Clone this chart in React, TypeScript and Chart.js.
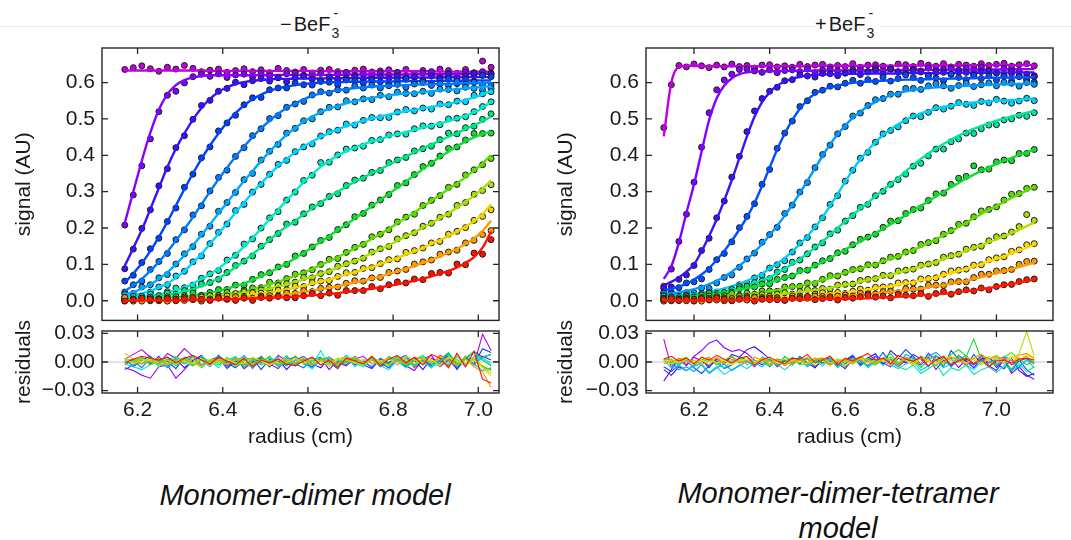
import React, { useEffect, useRef } from 'react';
import { Chart, registerables } from 'chart.js';
Chart.register(...registerables);

const FONT = '"Liberation Sans", Arial, Helvetica, sans-serif';
const INK = '#1a1a1a';

// ---------- axis ticks ----------
const X_TICKS = [6.2, 6.4, 6.6, 6.8, 7.0];
const SIGNAL_TICKS = [0, 0.1, 0.2, 0.3, 0.4, 0.5, 0.6];
const RESID_TICKS = [-0.03, 0, 0.03];

// ---------- radius grids (cm) ----------
const RADIUS_L = [6.17,6.19,6.21,6.23,6.25,6.27,6.29,6.31,6.33,6.35,6.37,6.39,6.41,6.43,6.45,6.47,6.49,6.51,6.53,6.55,6.57,6.59,6.61,6.63,6.65,6.67,6.69,6.71,6.73,6.75,6.77,6.79,6.81,6.83,6.85,6.87,6.89,6.91,6.93,6.95,6.97,6.99,7.01,7.03];
const RADIUS_R = [6.12,6.14,6.16,6.18,6.20,6.22,6.24,6.26,6.28,6.30,6.32,6.34,6.36,6.38,6.40,6.42,6.44,6.46,6.48,6.50,6.52,6.54,6.56,6.58,6.60,6.62,6.64,6.66,6.68,6.70,6.72,6.74,6.76,6.78,6.80,6.82,6.84,6.86,6.88,6.90,6.92,6.94,6.96,6.98,7.00,7.02,7.04,7.06,7.08,7.10];

// ---------- left panel (-BeF3-): fitted signal, milli-AU ----------
const fitL01 = [633,633,633,633,633,633,633,633,633,633,632,632,632,632,632,632,632,632,632,632,632,632,632,632,631,631,631,631,631,631,631,631,631,631,631,631,631,630,630,630,630,630,630,630];
const fitL02 = [214,300,385,462,525,568,593,607,614,618,620,620,620,620,620,620,620,620,621,621,621,621,621,621,621,621,622,622,622,622,622,622,622,622,623,623,623,623,623,623,624,624,624,624];
const fitL03 = [96,145,195,252,310,368,418,460,498,530,555,574,587,596,601,605,607,609,610,610,611,611,611,611,612,612,612,612,613,613,613,613,613,614,614,614,614,614,615,615,615,615,615,615];
const fitL04 = [50,75,103,137,175,217,262,307,350,390,427,460,490,516,537,554,567,577,584,589,593,596,598,600,601,601,602,602,602,603,603,603,603,604,604,604,604,605,605,605,605,606,606,606];
const fitL05 = [27,42,60,82,107,135,165,197,230,265,300,334,366,396,424,450,474,495,514,530,543,554,563,570,575,579,582,585,587,589,590,591,592,593,594,595,595,596,596,597,598,598,599,600];
const fitL06 = [16,24,33,45,60,78,100,125,152,181,210,240,270,300,329,357,384,410,434,456,475,492,506,518,528,536,543,549,554,558,562,565,568,570,572,574,576,578,580,582,584,586,588,590];
const fitL07 = [11,15,20,27,36,48,63,82,104,129,156,184,213,242,270,297,323,347,370,390,408,424,438,450,461,471,480,488,495,501,507,512,517,521,525,529,533,537,541,546,552,559,567,578];
const fitL08 = [7,9,11,14,18,23,29,37,47,59,73,89,107,127,149,173,198,224,250,276,301,326,348,368,385,399,411,421,430,438,445,452,458,464,470,476,482,488,494,501,509,518,530,548];
const fitL09 = [5,6,8,10,13,16,20,25,32,40,50,62,76,92,110,128,147,167,187,204,220,237,254,270,286,300,314,327,339,351,362,374,386,397,408,419,430,440,451,461,472,483,494,506];
const fitL10 = [2,3,4,5,6,8,10,12,15,18,22,27,33,40,48,57,67,78,90,103,117,132,147,162,178,194,210,226,243,260,277,294,311,328,345,362,379,395,410,425,438,449,458,465];
const fitL11 = [1,2,2,3,4,5,6,7,9,11,13,16,19,23,27,32,38,45,52,60,69,78,88,98,109,120,132,144,157,170,184,198,213,228,243,259,275,291,307,323,340,358,378,400];
const fitL12 = [1,2,2,3,3,4,5,6,7,9,11,13,15,18,21,25,29,34,39,45,52,59,66,74,82,91,100,110,120,131,142,153,165,177,189,201,214,227,241,256,272,289,308,331];
const fitL13 = [1,1,2,2,2,3,3,4,5,6,7,8,10,12,14,17,20,23,27,31,36,41,47,53,59,65,72,79,86,93,101,109,118,127,136,146,156,167,178,190,204,219,238,265];
const fitL14 = [0,1,1,1,1,2,2,2,3,3,4,5,6,7,8,10,11,13,15,18,21,24,28,32,36,40,45,50,55,61,67,74,81,88,96,104,113,122,132,143,156,171,192,220];
const fitL15 = [0,0,1,1,1,1,1,2,2,2,3,3,4,4,5,6,7,8,9,10,12,13,15,17,19,21,24,27,30,33,37,41,45,50,55,61,67,74,82,92,104,120,146,190];

// ---------- left panel residuals, milli-AU ----------
const resL01 = [3,8,13,5,-2,9,4,14,6,-3,2,5,-4,1,6,-2,3,-5,7,1,-3,4,-6,2,5,-1,-4,3,6,-2,1,4,-3,5,-6,2,-4,7,3,-5,6,-3,29,12];
const resL02 = [-6,-9,-14,-17,-5,-3,-17,-8,2,5,-3,4,-6,1,3,-4,6,-2,-7,3,5,-1,-5,4,-8,2,6,-3,1,-6,4,-2,5,-4,-9,3,7,-5,2,-7,4,-3,6,2];
const resL03 = [-8,-3,4,-2,6,-5,3,-6,1,7,-4,2,-3,5,-7,0,4,-5,3,-8,2,6,-2,-6,4,-4,1,5,-3,-7,3,-1,6,-5,2,-8,4,-2,9,-4,3,11,5,8];
const resL04 = [4,-5,2,6,-3,1,-7,5,-2,3,-4,7,-1,-6,2,4,-8,3,1,-4,6,-2,-5,3,0,-7,5,2,-3,4,-1,-6,3,7,-4,1,-5,2,6,-8,4,-2,14,10];
const resL05 = [-3,2,-6,4,1,-5,3,-2,6,-4,2,5,-7,1,-3,4,-1,6,-5,2,-2,-6,3,5,-4,1,-3,6,-2,4,-5,0,3,-6,2,5,-3,1,-4,6,-2,3,-5,-8];
const resL06 = [2,-4,5,-1,3,-6,1,4,-3,2,-5,6,0,-2,4,-7,3,1,-4,5,-1,3,-6,2,4,-3,7,-2,1,-5,3,-4,6,0,-3,2,-6,4,1,-5,3,-2,-9,-6];
const resL07 = [-2,-5,-8,-3,2,-4,5,-1,3,-6,1,4,-2,6,-5,2,-3,1,5,-4,2,-1,-7,3,4,-2,6,-5,1,3,-4,-8,2,5,-3,1,-6,4,-2,3,-5,6,2,-3];
const resL08 = [1,3,-2,4,-5,2,6,-1,-4,3,1,-6,5,-2,7,-3,2,4,-5,1,-2,5,-3,12,-4,2,6,-1,-5,3,-2,4,1,-6,3,5,-2,-4,6,1,-3,2,4,-1];
const resL09 = [2,-1,4,-3,1,5,-2,3,-4,6,0,-3,2,5,-1,-5,3,1,-2,7,-4,2,4,-3,1,-6,3,5,-2,2,-4,6,1,-3,4,-1,-5,3,10,-2,4,-3,5,8];
const resL10 = [3,1,-2,5,-1,3,-4,2,6,-3,1,4,-2,3,-5,2,5,-1,3,-3,6,-2,1,4,-4,2,-1,5,-3,3,0,-2,6,-4,2,7,-1,3,9,-2,4,11,2,-4];
const resL11 = [-1,2,4,-3,1,-2,5,2,-4,3,1,-1,4,-5,2,3,-2,6,-3,1,4,-1,-3,2,5,-4,1,3,-2,6,-1,-3,4,2,-5,3,1,-2,5,-3,6,2,-4,-9];
const resL12 = [2,-1,3,1,-3,2,-2,4,-1,-5,3,1,-3,2,4,-2,1,-4,3,2,-1,5,-3,1,-2,4,2,-1,-3,3,1,-4,5,2,-2,4,-1,3,-3,6,-2,4,-5,-12];
const resL13 = [4,-2,1,3,-1,-3,2,1,-2,4,-4,2,3,-1,-2,5,1,-3,2,-1,4,-2,3,1,-4,2,5,-1,3,-2,1,4,-3,6,2,-1,3,-4,5,1,-3,2,-6,-15];
const resL14 = [9,3,-2,1,4,-3,2,-1,3,-4,1,2,-2,4,-1,-3,2,1,-2,3,-1,4,-3,2,1,-2,3,5,-1,2,-3,4,1,-2,5,3,-1,6,2,-4,3,-5,-10,-27];
const resL15 = [-1,3,6,4,2,5,-1,4,7,2,-2,5,1,-3,4,-5,2,-1,3,-2,-4,1,5,-3,2,-6,4,1,-2,6,-4,3,7,-1,5,-3,8,4,-6,9,-5,11,-18,-22];

// ---------- right panel (+BeF3-): fitted signal, milli-AU ----------
const fitR01 = [452,600,643,646,646,645,645,645,645,645,645,645,645,645,645,645,645,645,645,645,646,646,646,646,646,646,646,646,646,646,646,647,647,647,647,647,647,647,647,647,647,648,648,648,648,648,648,648,648,648];
const fitR02 = [60,95,160,242,320,410,497,557,592,612,623,628,630,631,631,632,632,632,632,632,633,633,633,633,633,633,633,634,634,634,634,634,634,635,635,635,635,635,635,635,636,636,636,636,636,636,637,637,637,637];
const fitR03 = [42,52,64,80,100,136,178,224,276,332,392,452,506,546,573,591,603,611,616,619,621,622,623,623,624,624,624,625,625,625,625,625,626,626,626,626,626,626,627,627,627,627,627,627,628,628,628,628,628,628];
const fitR04 = [28,33,39,47,58,72,90,112,137,165,196,230,269,316,366,416,460,497,528,552,569,580,587,592,596,599,601,603,604,605,606,607,608,608,609,609,610,610,611,611,612,612,613,613,613,614,614,614,615,615];
const fitR05 = [18,20,23,27,32,38,46,55,66,80,96,114,134,156,180,206,234,264,296,330,364,398,430,458,482,503,520,535,547,557,565,571,576,580,583,585,587,588,589,590,591,592,593,594,595,595,596,596,597,597];
const fitR06 = [12,13,15,17,19,22,25,29,34,40,47,55,64,75,88,102,118,136,156,178,202,230,261,294,327,360,389,414,436,455,471,485,497,507,515,522,528,533,537,540,543,545,547,549,550,551,552,553,555,556];
const fitR07 = [8,9,10,12,14,16,19,22,26,30,35,41,48,56,65,76,88,101,115,130,146,163,181,200,218,236,253,270,287,304,321,338,356,373,390,405,419,431,443,454,464,473,481,488,495,501,507,512,517,522];
const fitR08 = [6,7,8,10,12,14,16,19,22,26,30,34,39,44,50,56,63,70,78,87,96,106,117,129,141,152,163,174,186,198,210,222,235,248,261,274,287,300,312,324,336,347,357,367,376,385,393,401,408,415];
const fitR09 = [4,4,5,6,7,8,9,10,12,14,16,18,20,23,26,29,33,37,41,46,51,57,63,70,77,83,89,95,101,108,115,123,131,140,149,159,169,180,191,203,215,227,239,250,261,272,283,293,303,313];
const fitR10 = [2,2,3,3,4,4,5,6,7,8,9,10,11,13,15,17,19,21,23,26,29,32,36,40,44,48,52,57,62,67,72,77,82,88,94,100,107,114,121,129,137,145,153,161,169,177,186,195,205,215];
const fitR11 = [1,1,2,2,2,3,3,3,4,4,5,5,6,7,8,9,10,11,12,13,15,17,19,21,23,25,28,31,34,37,40,44,48,52,56,60,65,70,76,82,88,94,101,108,115,122,130,138,146,154];
const fitR12 = [1,1,1,1,1,2,2,2,2,3,3,3,4,4,5,5,6,6,7,8,9,10,11,12,13,15,16,18,20,22,24,26,29,31,34,37,40,43,47,51,55,60,65,70,76,81,87,93,99,105];
const fitR13 = [0,0,0,0,1,1,1,1,1,1,1,2,2,2,2,2,3,3,3,4,4,4,5,5,5,6,6,7,8,9,10,11,12,13,15,16,18,19,21,24,26,29,32,35,38,42,46,50,54,58];

// ---------- right panel residuals, milli-AU ----------
const resR01 = [24,-6,4,-3,5,1,-4,3,-2,6,-1,2,-5,3,4,-2,1,-3,5,-1,2,4,-3,1,-2,6,-4,2,3,-1,-5,4,2,-3,6,1,-2,5,-4,3,1,-3,4,-1,2,5,-3,1,4,-2];
const resR02 = [-20,-8,3,-4,6,12,20,23,15,11,13,9,2,-3,4,-5,1,3,-2,5,-6,2,4,-1,-7,3,1,-4,6,-2,3,-5,2,1,-3,5,-8,2,4,-6,3,-2,7,-4,-9,3,-12,-5,-14,-18];
const resR03 = [-8,-14,-5,-9,-3,2,-6,4,-2,8,5,13,16,10,3,-4,2,-3,5,-1,-6,3,1,-4,2,6,-2,4,9,-3,12,5,-1,8,3,-5,6,2,-4,7,1,-6,3,5,-2,-7,4,-9,-15,-12];
const resR04 = [-5,-10,-3,2,-6,-12,-4,1,-7,-3,5,2,-2,4,-5,3,1,-3,6,-2,4,-1,3,-4,2,7,-3,5,-1,10,-2,4,13,6,-3,9,2,-5,12,3,-4,8,-2,5,-6,3,-10,2,-8,-14];
const resR05 = [3,-2,-8,-5,-10,-3,-12,-6,-2,-9,-4,1,-3,5,2,-4,6,-1,3,-5,2,4,-2,1,-3,5,-4,2,6,-1,3,-3,8,4,-2,6,10,3,-5,2,7,-3,1,5,-4,6,2,-6,3,-2];
const resR06 = [2,-6,-3,-9,-4,-2,-11,-5,-13,-8,-3,-7,-1,-5,2,-3,-8,-2,3,-4,1,-2,4,-5,2,-1,3,-6,0,4,-3,-7,-2,1,-9,-4,3,-6,-2,5,-3,-8,1,-5,4,-2,-9,-4,2,-6];
const resR07 = [4,1,-3,2,-5,0,3,-2,-6,1,4,-3,2,-1,-4,3,-2,5,-3,-1,2,-4,3,-6,1,-2,4,-5,2,-3,-1,-5,-8,-3,-12,-7,-2,-14,-6,-9,-3,-13,-8,-5,-11,-4,-7,-2,-10,-5];
const resR08 = [1,3,-2,4,-1,2,5,-3,1,-2,3,6,-1,2,-4,3,1,-2,5,-3,2,4,-1,3,-5,2,6,1,-3,4,9,-2,5,3,-6,2,7,-4,8,13,6,24,3,-5,6,2,-8,4,-3,1];
const resR09 = [2,-1,3,5,-2,1,4,-3,2,6,-1,3,-2,4,1,-3,5,2,-1,3,-4,2,6,-2,1,3,-1,4,-3,2,5,-1,3,-2,6,1,-4,3,2,7,-2,4,8,1,-3,5,10,2,6,-1];
const resR10 = [3,-2,1,4,-1,2,-3,5,1,-2,3,2,-1,4,-2,1,3,-3,2,5,-1,2,-4,3,1,-2,4,2,-1,3,-3,5,2,-1,4,1,-2,6,3,-1,5,2,-3,4,7,1,3,9,32,6];
const resR11 = [1,2,-1,3,-2,1,4,-1,2,-3,1,3,-2,2,4,-1,-3,2,1,-2,3,5,-1,2,-3,1,4,-2,3,1,-1,5,2,-3,4,1,-2,3,6,2,-1,4,-2,5,3,-1,6,2,8,3];
const resR12 = [-2,1,3,-1,2,-3,1,4,-2,3,1,-1,5,2,-2,3,-4,1,2,-1,4,2,-3,1,3,-2,5,1,-1,3,2,-4,4,1,-2,6,3,-1,5,2,-3,4,8,3,6,2,-1,7,9,4];
const resR13 = [3,6,1,4,-2,5,2,7,3,-1,4,6,-3,2,5,1,-2,4,3,8,-1,2,6,-3,4,1,5,9,2,4,-2,7,3,1,5,-4,2,6,-3,1,4,-2,3,-5,1,2,-1,3,4,2];

// ---------- series tables (built from the arrays above) ----------
const FITS_L = [fitL01,fitL02,fitL03,fitL04,fitL05,fitL06,fitL07,fitL08,fitL09,fitL10,fitL11,fitL12,fitL13,fitL14,fitL15];
const RESIDS_L = [resL01,resL02,resL03,resL04,resL05,resL06,resL07,resL08,resL09,resL10,resL11,resL12,resL13,resL14,resL15];
const FITS_R = [fitR01,fitR02,fitR03,fitR04,fitR05,fitR06,fitR07,fitR08,fitR09,fitR10,fitR11,fitR12,fitR13];
const RESIDS_R = [resR01,resR02,resR03,resR04,resR05,resR06,resR07,resR08,resR09,resR10,resR11,resR12,resR13];

// ---------- styles ----------
const COLORS_L = ['#c000e0','#8400ff','#3a10ff','#0044ff','#0078ff','#00a8ff','#00d4ff','#00ecc8','#00e680','#10dd30','#60dd00','#a8e000','#f0d400','#ff9a00','#ff1000'];
const COLORS_R = ['#c000e0','#8400ff','#3a10ff','#0050ff','#0098ff','#00d0f0','#00e6a0','#10dd30','#60dd00','#b0e000','#ffd800','#ff9800','#ff1800'];

const framePlugin = {
  id: 'frame',
  beforeDatasetsDraw(chart: any, _a: any, opts: any) {
    if (!opts.zero) return;
    const { ctx, chartArea } = chart;
    const y = chart.scales.y.getPixelForValue(0);
    ctx.save();
    ctx.strokeStyle = '#d9d9d9';
    ctx.lineWidth = 1.5;
    ctx.beginPath();
    ctx.moveTo(chartArea.left, y);
    ctx.lineTo(chartArea.right, y);
    ctx.stroke();
    ctx.restore();
  },
  afterDraw(chart: any, _a: any, opts: any) {
    const { ctx, chartArea } = chart;
    const { left, right, top, bottom } = chartArea;
    const xs = chart.scales.x;
    const ys = chart.scales.y;
    const L = 6;
    ctx.save();
    ctx.strokeStyle = '#262626';
    ctx.lineWidth = 1.4;
    ctx.strokeRect(left, top, right - left, bottom - top);
    ctx.lineWidth = 1.3;
    ctx.beginPath();
    X_TICKS.forEach((v) => {
      const p = xs.getPixelForValue(v);
      ctx.moveTo(p, top); ctx.lineTo(p, top + L);
      ctx.moveTo(p, bottom); ctx.lineTo(p, bottom - L);
    });
    (opts.yTicks || []).forEach((v: number) => {
      const p = ys.getPixelForValue(v);
      ctx.moveTo(left, p); ctx.lineTo(left + L, p);
      ctx.moveTo(right, p); ctx.lineTo(right - L, p);
    });
    ctx.stroke();
    ctx.restore();
  },
};

function mainDatasets(radius: number[], fits: number[][], resids: number[][], colors: string[]) {
  const out: any[] = [];
  fits.forEach((fit, i) => {
    const res = resids[i] || [];
    const n = Math.min(radius.length, fit.length);
    const pts = [];
    const line = [];
    for (let k = 0; k < n; k++) {
      pts.push({ x: radius[k], y: (fit[k] + (res[k] ?? 0)) / 1000 });
      line.push({ x: radius[k], y: fit[k] / 1000 });
    }
    out.push({
      data: pts, showLine: false, pointRadius: 3, pointStyle: 'circle',
      pointBackgroundColor: colors[i], pointBorderColor: '#1c1c1c', pointBorderWidth: 1,
      borderColor: colors[i], backgroundColor: colors[i],
    });
    out.push({
      data: line, showLine: true, pointRadius: 0, borderColor: colors[i], borderWidth: 2.4,
      cubicInterpolationMode: 'monotone', fill: false,
    });
  });
  // Chart.js paints dataset 0 last (on top): put red on top
  return out.reverse();
}

function residDatasets(radius: number[], resids: number[][], colors: string[]) {
  const out = resids.map((res, i) => ({
    data: radius.slice(0, res.length).map((r, k) => ({ x: r, y: res[k] / 1000 })),
    showLine: true, pointRadius: 0, borderColor: colors[i], borderWidth: 1.1, tension: 0, fill: false,
  }));
  return out.reverse();
}

const tickFont = { family: FONT, size: 21 };

function yAxis(min: number, max: number, ticks: number[], fmt: (v: number) => string, title: string, width: number, titlePad: number) {
  return {
    type: 'linear', min, max, position: 'left',
    afterBuildTicks: (a: any) => { a.ticks = ticks.map((v) => ({ value: v })); },
    afterFit: (a: any) => { a.width = width; },
    grid: { display: false, drawTicks: false },
    border: { display: false },
    ticks: { callback: (v: any) => fmt(Number(v)), font: tickFont, color: INK, padding: 7, autoSkip: false },
    title: { display: true, text: title, font: tickFont, color: INK, padding: { top: titlePad, bottom: 0 } },
  };
}

function baseOptions(padding: any, scales: any, frame: any) {
  return {
    responsive: false, maintainAspectRatio: false, animation: false, devicePixelRatio: 1, events: [],
    layout: { padding },
    plugins: { legend: { display: false }, tooltip: { enabled: false }, title: { display: false }, frame },
    scales,
  };
}

const fmtSignal = (v: number) => v.toFixed(1);
const fmtResid = (v: number) => (Math.abs(v) < 1e-9 ? '0.00' : v < 0 ? '\u2212' + Math.abs(v).toFixed(2) : v.toFixed(2));

function mainConfig(side: 'L' | 'R') {
  const isL = side === 'L';
  return {
    type: 'line',
    data: { datasets: mainDatasets(isL ? RADIUS_L : RADIUS_R, isL ? FITS_L : FITS_R, isL ? RESIDS_L : RESIDS_R, isL ? COLORS_L : COLORS_R) },
    options: baseOptions(
      { left: 0, right: isL ? 21 : 18, top: 48, bottom: 10 },
      {
        x: { type: 'linear', min: isL ? 6.1165 : 6.073, max: isL ? 7.0486 : 7.1496, display: false },
        y: yAxis(-0.054, 0.695, SIGNAL_TICKS, fmtSignal, 'signal (AU)', isL ? 102 : 106, isL ? 12 : 14),
      },
      { yTicks: SIGNAL_TICKS, zero: false }
    ),
    plugins: [framePlugin],
  };
}

function residConfig(side: 'L' | 'R') {
  const isL = side === 'L';
  return {
    type: 'line',
    data: { datasets: residDatasets(isL ? RADIUS_L : RADIUS_R, isL ? RESIDS_L : RESIDS_R, isL ? COLORS_L : COLORS_R) },
    options: baseOptions(
      { left: 0, right: isL ? 21 : 18, top: 31, bottom: 7 },
      {
        x: {
          type: 'linear', min: isL ? 6.1165 : 6.073, max: isL ? 7.0486 : 7.1496, position: 'bottom',
          afterBuildTicks: (a: any) => { a.ticks = X_TICKS.map((v) => ({ value: v })); },
          afterFit: (a: any) => { a.height = 60; },
          grid: { display: false, drawTicks: false },
          border: { display: false },
          ticks: { callback: (v: any) => Number(v).toFixed(1), font: tickFont, color: INK, padding: 5, maxRotation: 0, autoSkip: false },
          title: { display: true, text: 'radius (cm)', font: tickFont, color: INK, padding: { top: 0, bottom: 3 } },
        },
        y: yAxis(-0.0325, 0.0325, RESID_TICKS, fmtResid, 'residuals', isL ? 102 : 106, isL ? 12 : 14),
      },
      { yTicks: RESID_TICKS, zero: true }
    ),
    plugins: [framePlugin],
  };
}

function ChartBox({ left, top, width, height, make }: any) {
  const ref = useRef<HTMLCanvasElement | null>(null);
  useEffect(() => {
    const chart = new Chart(ref.current as any, make() as any);
    return () => chart.destroy();
  }, []);
  return <canvas ref={ref} width={width} height={height} style={{ position: 'absolute', left, top, width, height }} />;
}

function Title({ left, sign }: { left: number; sign: string }) {
  return (
    <div style={{ position: 'absolute', left, top: 14, fontFamily: FONT, fontSize: 20, lineHeight: '20px', color: INK, whiteSpace: 'nowrap', background: '#fff', paddingRight: 4 }}>
      <span>{sign}</span><span style={{ marginLeft: 2 }}>BeF</span>
      <span style={{ position: 'relative', display: 'inline-block', width: 11, height: 20, verticalAlign: 'top' }}>
        <span style={{ position: 'absolute', left: 1, top: 12, fontSize: 14, lineHeight: '14px' }}>3</span>
        <span style={{ position: 'absolute', left: 3, top: -8, fontSize: 14, lineHeight: '14px' }}>-</span>
      </span>
    </div>
  );
}

export default function App() {
  const caption = { position: 'absolute' as const, fontFamily: FONT, fontStyle: 'italic', fontSize: 29, lineHeight: '35.5px', color: '#111', textAlign: 'center' as const, whiteSpace: 'nowrap' as const };
  return (
    <div style={{ position: 'fixed', left: 0, top: 0, width: 1071, height: 540, background: '#fff', overflow: 'hidden' }}>
      <div style={{ position: 'absolute', left: 0, top: 26, width: 1071, height: 1, background: '#e8e8e8' }} />
      <Title left={280} sign={'\u2212'} />
      <Title left={815} sign={'+'} />
      <ChartBox left={0} top={0} width={520} height={340} make={() => mainConfig('L')} />
      <ChartBox left={0} top={300} width={520} height={160} make={() => residConfig('L')} />
      <ChartBox left={540} top={0} width={531} height={340} make={() => mainConfig('R')} />
      <ChartBox left={540} top={300} width={531} height={160} make={() => residConfig('R')} />
      <div style={{ ...caption, left: 105, width: 400, top: 478 }}>Monomer-dimer model</div>
      <div style={{ ...caption, left: 638, width: 400, top: 475.5 }}>Monomer-dimer-tetramer<br />model</div>
    </div>
  );
}
